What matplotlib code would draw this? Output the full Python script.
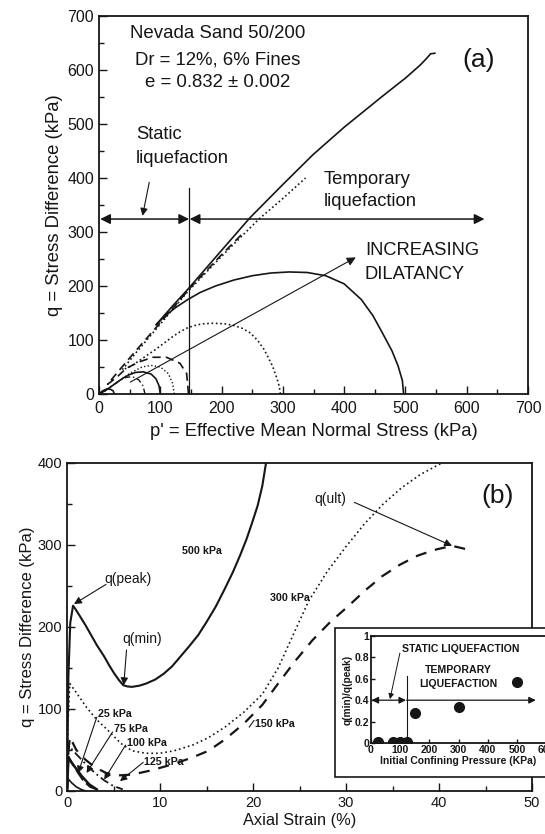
import matplotlib.pyplot as plt
from matplotlib.patches import Rectangle
from matplotlib.ticker import MultipleLocator, FixedLocator

plt.rcParams['font.family'] = ['Liberation Sans', 'DejaVu Sans']

INK = '#161616'

# ---------------- (a) stress paths: p' vs q ----------------
p_500 = [497, 495, 488, 478, 462, 447, 428, 400, 370, 340, 310, 280, 250, 220,
         190, 165, 145, 125, 108, 93,
         120, 145, 200, 246, 300, 349, 400, 462, 500, 524, 535, 541, 548]
q_500 = [0, 25, 52, 80, 114, 145, 175, 204, 219, 225, 226, 224, 219, 211,
         200, 188, 175, 160, 145, 128,
         163, 194, 266, 326, 388, 443, 494, 551, 585, 609, 622, 630, 631]

p_300 = [296, 294, 290, 283, 276, 269, 259, 247, 233, 220, 205, 187, 170, 160,
         145, 132, 120, 107, 93, 80, 70, 58, 48, 38,
         60, 93, 145, 200, 261, 300, 337]
q_300 = [0, 15, 30, 52, 68, 83, 99, 113, 122, 127, 130, 131, 130, 128,
         123, 115, 106, 95, 83, 73, 65, 56, 49, 45,
         76, 120, 190, 255, 324, 362, 400]

p_150 = [146, 143, 132, 110, 88, 67, 45, 28, 14, 30, 60, 100, 150, 200, 235]
q_150 = [0, 38, 57, 68, 68, 60, 48, 30, 18, 40, 80, 132, 198, 258, 298]

p_125 = [123, 120, 113, 100, 85, 70, 50, 30, 10, 0]
q_125 = [0, 20, 38, 50, 53, 50, 38, 22, 6, 0]

p_100 = [100, 98, 93, 85, 72, 60, 50, 40, 25, 10, 0]
q_100 = [0, 15, 28, 37, 41, 40, 36, 30, 18, 6, 0]

p_75 = [75, 72, 65, 55, 45, 35, 20, 5, 0]
q_75 = [0, 15, 26, 32, 31, 26, 14, 3, 0]

p_25 = [25, 23, 18, 12, 6, 0]
q_25 = [0, 6, 9, 9, 6, 0]

# ---------------- (b) q vs axial strain ----------------
s_500 = [0, 0.15, 0.35, 0.65, 0.9, 1.4, 2.0, 2.5, 3.2, 4.0, 4.6, 5.1, 5.6, 6.05,
         6.5, 7.0, 7.8, 8.5, 9.5, 10.4, 11.3, 12.2, 13.1, 14.1, 15.0, 16.0,
         16.9, 17.8, 18.6, 19.3, 19.9, 20.5, 21.0, 21.4]
qb_500 = [0, 140, 205, 226, 222, 213, 202, 192, 178, 164, 152, 143, 135, 129,
          127.5, 127, 128.5, 131, 136, 143, 152, 164, 176, 190, 206, 225,
          245, 266, 287, 307, 327, 348, 372, 400]

s_300 = [0, 0.1, 0.3, 1.0, 2.1, 3.2, 4.4, 5.8, 7.0, 8.5, 10, 11.5, 13.5, 15.2, 17,
         19, 21, 22.7, 24.5, 26, 28, 30, 32, 34, 36, 38, 40.3]
qb_300 = [0, 80, 131, 120, 102, 87, 74, 58, 49, 46, 46, 49, 56, 65, 78,
          96, 118, 150, 195, 232, 268, 298, 326, 350, 370, 386, 400]

s_150 = [0, 0.1, 0.3, 1.0, 2.0, 3.0, 4.2, 5.5, 7, 9, 11.5, 13.5, 15.2, 17, 19, 21,
         22.7, 24.5, 26.4, 28.3, 30.2, 32, 33.9, 35.8, 37.7, 39.5, 41.4, 42.9]
qb_150 = [0, 40, 66, 50, 38, 29, 22, 19, 20, 25, 33, 41, 49, 63, 82, 105,
          131, 158, 184, 206, 225, 244, 262, 276, 287, 294, 299, 295]

s_125 = [0, 0.2, 1, 2, 3, 4, 5, 6]
qb_125 = [0, 55, 45, 33, 22, 13, 6, 2]

s_100 = [0, 0.15, 0.6, 1.2, 1.8, 2.5, 3.5]
qb_100 = [0, 42, 33, 22, 12, 5, 1]

s_75 = [0, 0.15, 0.8, 1.6, 2.4, 3.2]
qb_75 = [0, 40, 30, 18, 8, 2]

s_25 = [0, 0.1, 0.5, 1, 1.5, 2]
qb_25 = [0, 15, 10, 5, 2, 0]

# ---------------- inset: q(min)/q(peak) ----------------
conf_p = [25, 75, 100, 125, 150, 300, 500]
ratio = [0.01, 0.01, 0.01, 0.01, 0.28, 0.34, 0.57]

W, H = 545, 834


def box(l, t, r, b):
    return [l / W, (H - b) / H, (r - l) / W, (b - t) / H]


def arrow(ax, tip, tail, style='-|>', lw=0.8, ms=12):
    ax.annotate('', xy=tip, xytext=tail,
                arrowprops=dict(arrowstyle=style, color=INK, lw=lw,
                                mutation_scale=ms, shrinkA=0, shrinkB=0))


def style_axes(ax, size):
    for sp in ax.spines.values():
        sp.set_linewidth(1.3)
        sp.set_color(INK)
    ax.tick_params(which='both', direction='in', colors=INK, labelsize=size,
                   top=False, right=False)
    ax.tick_params(which='major', length=6, width=1.0)
    ax.tick_params(which='minor', length=3.5, width=1.0)


fig = plt.figure(figsize=(W / 100, H / 100), dpi=100)

# ================= panel (a) =================
ax1 = fig.add_axes(box(99, 16, 528, 394))
lw = 1.2
ax1.plot(p_500, q_500, '-', color=INK, lw=lw)
ax1.plot(p_300, q_300, color=INK, lw=lw, ls=(0, (1, 1.6)))
ax1.plot(p_150, q_150, color=INK, lw=lw, ls=(0, (5, 3)))
ax1.plot(p_125, q_125, color=INK, lw=1.0, ls=(0, (1, 1.6)))
ax1.plot(p_100, q_100, '-', color=INK, lw=lw)
ax1.plot(p_75, q_75, color=INK, lw=1.0, ls=(0, (4, 2, 1, 2)))
ax1.plot(p_25, q_25, '-', color=INK, lw=lw)

ax1.set_xlim(0, 700)
ax1.set_ylim(0, 700)
ax1.xaxis.set_major_locator(MultipleLocator(100))
ax1.yaxis.set_major_locator(MultipleLocator(100))
ax1.xaxis.set_minor_locator(MultipleLocator(50))
ax1.yaxis.set_minor_locator(MultipleLocator(50))
style_axes(ax1, 11.5)
ax1.tick_params(axis='x', pad=5)
ax1.set_xlabel("p' = Effective Mean Normal Stress (kPa)", fontsize=13.3,
               color=INK, labelpad=5)
ax1.set_ylabel('q = Stress Difference (kPa)', fontsize=13.3, color=INK,
               labelpad=3)

# liquefaction zones
ax1.plot([147, 147], [0, 381], '-', color=INK, lw=0.9)
arrow(ax1, (147, 324), (2, 324), style='<|-|>', lw=1.1, ms=15)
arrow(ax1, (629, 324), (148, 324), style='<|-|>', lw=1.1, ms=15)
arrow(ax1, (71, 330), (82, 392), lw=0.8, ms=11)
arrow(ax1, (419, 253), (51, 22), lw=0.8, ms=13)

big = dict(ha='center', va='center', fontsize=13.4, color=INK)
ax1.text(193, 667, 'Nevada Sand 50/200', **big)
ax1.text(193, 619, 'Dr = 12%, 6% Fines', **big)
ax1.text(193, 576, 'e = 0.832 ± 0.002', **big)
ax1.text(620, 618, '(a)', ha='center', va='center', fontsize=19, color=INK)
note = dict(ha='left', va='center', fontsize=13.2, color=INK)
ax1.text(60, 480, 'Static', **note)
ax1.text(60, 437, 'liquefaction', **note)
ax1.text(366, 397, 'Temporary', **note)
ax1.text(366, 357, 'liquefaction', **note)
ax1.text(434, 266, 'INCREASING', **note)
ax1.text(434, 221, 'DILATANCY', **note)

# ================= panel (b) =================
ax2 = fig.add_axes(box(67, 463, 532, 791))
ax2.plot(s_500, qb_500, '-', color=INK, lw=1.5)
ax2.plot(s_300, qb_300, color=INK, lw=1.2, ls=(0, (1, 1.8)))
ax2.plot(s_150, qb_150, color=INK, lw=1.6, ls=(0, (5, 4)))
ax2.plot(s_125, qb_125, color=INK, lw=1.3, ls=(0, (5, 2, 1, 2)))
ax2.plot(s_100, qb_100, color=INK, lw=1.5, ls=(0, (6, 2)))
ax2.plot(s_75, qb_75, '-', color=INK, lw=1.8)
ax2.plot(s_25, qb_25, '-', color=INK, lw=1.2)

ax2.set_xlim(0, 50)
ax2.set_ylim(0, 400)
ax2.xaxis.set_major_locator(MultipleLocator(10))
ax2.xaxis.set_minor_locator(MultipleLocator(5))
ax2.yaxis.set_major_locator(MultipleLocator(100))
ax2.yaxis.set_minor_locator(MultipleLocator(50))
style_axes(ax2, 10.5)
ax2.set_xlabel('Axial Strain (%)', fontsize=11.8, color=INK, labelpad=2)
ax2.set_ylabel('q = Stress Difference (kPa)', fontsize=12, color=INK,
               labelpad=2)

ax2.text(46.3, 360, '(b)', ha='center', va='center', fontsize=19, color=INK)
qlab = dict(ha='center', va='center', fontsize=10, color=INK)
ax2.text(6.6, 258, 'q(peak)', **qlab)
arrow(ax2, (0.75, 228), (4.2, 252), lw=0.8, ms=11)
ax2.text(8.1, 185, 'q(min)', **qlab)
arrow(ax2, (6.1, 129), (6.4, 172), lw=0.8, ms=11)
ax2.text(28.3, 356, 'q(ult)', **qlab)
arrow(ax2, (41.4, 299), (30.9, 352), lw=0.8, ms=11)

lab = dict(fontsize=7.7, fontweight='bold', color=INK, va='center')
ax2.text(12.4, 293, '500 kPa', ha='left', **lab)
ax2.text(21.8, 235, '300 kPa', ha='left', **lab)
ax2.text(20.2, 82, '150 kPa', ha='left', **lab)
ax2.text(3.3, 94, '25 kPa', ha='left', **lab)
ax2.text(5.0, 76, '75 kPa', ha='left', **lab)
ax2.text(6.5, 59, '100 kPa', ha='left', **lab)
ax2.text(8.3, 35, '125 kPa', ha='left', **lab)
arrow(ax2, (1.2, 22), (3.2, 90), lw=0.8, ms=10)
arrow(ax2, (2.1, 22), (4.9, 72), lw=0.8, ms=10)
arrow(ax2, (4.0, 14), (6.3, 56), lw=0.8, ms=10)
arrow(ax2, (5.7, 12), (8.2, 35), lw=0.8, ms=10)
ax2.plot([19.6, 20.1], [78, 86], '-', color=INK, lw=0.8)

# ================= inset =================
frame = Rectangle((335 / W, (H - 777) / H), 230 / W, 149 / H,
                  transform=fig.transFigure, facecolor='white',
                  edgecolor=INK, lw=1.2, zorder=5)
fig.patches.append(frame)

ax3 = fig.add_axes(box(371, 636, 546, 743))
ax3.set_zorder(6)
ax3.plot(conf_p, ratio, 'o', color=INK, ms=7)
ax3.plot([122, 122], [0, 0.63], '-', color=INK, lw=0.8)
arrow(ax3, (120, 0.4), (2, 0.4), style='<|-|>', lw=0.9, ms=10)
arrow(ax3, (565, 0.4), (122, 0.4), style='-|>', lw=0.9, ms=10)
arrow(ax3, (65, 0.41), (99, 0.84), lw=0.7, ms=8)
ins = dict(fontsize=7.6, fontweight='bold', color=INK, va='center')
ax3.text(108, 0.875, 'STATIC LIQUEFACTION', ha='left', **ins)
ax3.text(300, 0.68, 'TEMPORARY', ha='center', **ins)
ax3.text(300, 0.55, 'LIQUEFACTION', ha='center', **ins)

ax3.set_xlim(0, 600)
ax3.set_ylim(0, 1)
ax3.xaxis.set_major_locator(MultipleLocator(100))
ax3.yaxis.set_major_locator(FixedLocator([0, 0.2, 0.4, 0.6, 0.8, 1]))
ax3.set_yticklabels(['0', '0.2', '0.4', '0.6', '0.8', '1'])
style_axes(ax3, 7.5)
for t in ax3.get_xticklabels() + ax3.get_yticklabels():
    t.set_fontweight('bold')
ax3.tick_params(which='major', length=3, pad=1.5)
ax3.set_xlabel('Initial Confining Pressure (KPa)', fontsize=7.5,
               fontweight='bold', color=INK, labelpad=1)
ax3.set_ylabel('q(min)/q(peak)', fontsize=7.3, fontweight='bold', color=INK,
               labelpad=1)

fig.savefig('out.png', dpi=100)
